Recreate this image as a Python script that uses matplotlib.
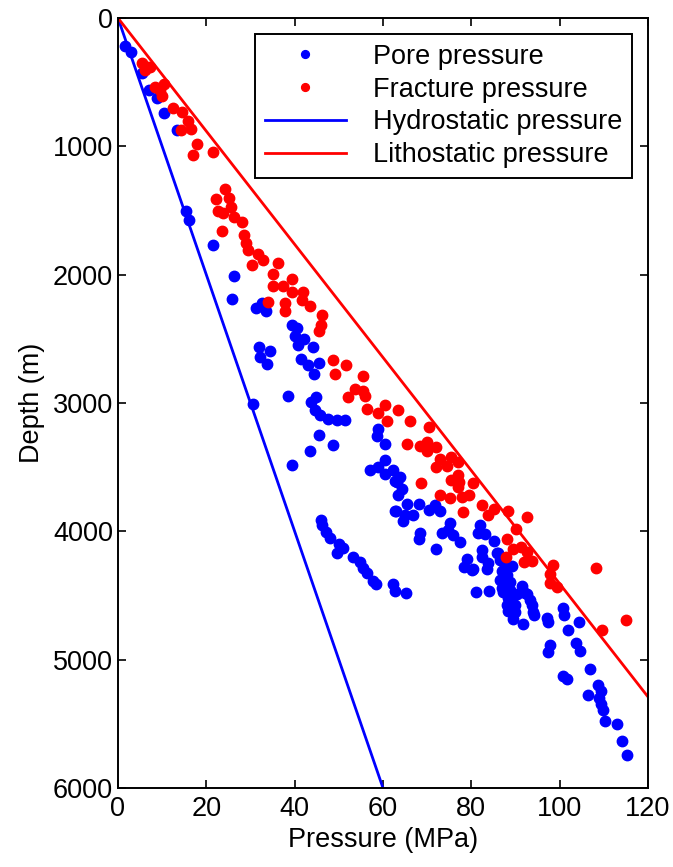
import numpy as np
import matplotlib
matplotlib.use('Agg')
import matplotlib.pyplot as plt

plt.rcParams['font.family'] = ['Liberation Sans', 'DejaVu Sans']
plt.rcParams['font.size'] = 19.5

# pore pressure points (MPa, m)
pore_p = [1.6, 2.9, 5.4, 7.1, 8.8, 10.4, 13.3, 15.5, 16.1, 21.4, 26.3, 25.8, 31.2, 32.5, 33.5,
          39.5, 40.6, 40.1, 42.1, 40.8, 44.1, 41.4, 43.1, 45.6, 44.4, 32.0, 34.4, 32.1, 33.8,
          38.6, 30.5, 44.8, 43.6, 44.6, 45.7, 47.6, 49.5, 51.4, 45.6, 48.6, 43.5, 39.5,
          58.9, 58.6, 60.4, 60.4, 58.9, 57.1, 62.3, 60.4, 62.7, 63.5, 62.7,
          45.9, 46.1, 47.2, 48.0, 50.1, 51.0, 49.5, 53.1, 54.8, 55.4, 56.3, 57.7, 58.4,
          62.3, 62.7, 65.2,
          63.8, 63.1, 64.2, 65.4, 68.2, 62.9, 65.0, 66.9, 64.6, 70.5, 71.8, 72.9, 75.2,
          73.3, 74.8, 75.9, 77.4, 68.4, 68.2, 72.0, 82.0, 81.6, 83.1, 85.1, 82.3, 82.3,
          85.7, 79.0, 78.3, 80.3, 83.8, 83.6, 86.5, 87.6, 89.1, 86.9, 88.0, 86.5, 88.7,
          91.4, 86.9, 88.7, 90.3, 92.5, 93.3, 88.4, 89.5, 81.0, 84.1,
          86.1, 80.1, 87.2, 88.0, 89.9, 88.4, 89.9, 89.5, 92.1, 93.7, 94.0, 91.8, 97.2,
          97.4, 100.7, 101.0, 101.9, 97.8, 97.4,
          94.2, 104.4, 103.8, 104.7, 106.9, 100.8, 101.7, 108.7, 109.4, 106.3, 109.0,
          109.3, 109.7, 110.3, 112.9, 114.1, 115.3]
pore_d = [218, 262, 430, 560, 624, 741, 875, 1500, 1575, 1766, 2010, 2186, 2256, 2222, 2282,
          2393, 2419, 2476, 2502, 2549, 2566, 2657, 2704, 2688, 2774, 2566, 2593, 2644, 2696,
          2942, 3007, 2955, 2989, 3051, 3093, 3124, 3131, 3129, 3253, 3326, 3377, 3486,
          3201, 3258, 3318, 3447, 3499, 3525, 3525, 3551, 3611, 3719, 3843,
          3914, 3952, 4004, 4051, 4095, 4128, 4167, 4198, 4237, 4284, 4328, 4388, 4413,
          4413, 4465, 4480,
          3577, 3616, 3668, 3784, 3784, 3844, 3875, 3875, 3921, 3836, 3792, 3844, 3932,
          4009, 3991, 4030, 4082, 4009, 4056, 4134, 3952, 4009, 4017, 4077, 4147, 4198,
          4165, 4216, 4276, 4294, 4250, 4294, 4224, 4263, 4268, 4310, 4341, 4380, 4393,
          4423, 4444, 4458, 4491, 4491, 4535, 4522, 4569, 4470, 4465,
          4172, 4302, 4470, 4575, 4575, 4621, 4625, 4683, 4483, 4575, 4625, 4724, 4678,
          4709, 4594, 4652, 4769, 4885, 4937,
          4652, 4706, 4872, 4931, 5071, 5131, 5149, 5200, 5242, 5278, 5299,
          5346, 5390, 5475, 5501, 5631, 5740]

# fracture pressure points
frac_p = [5.4, 6.5, 7.2, 6.1, 8.3, 10.4, 9.5, 9.9, 12.5, 14.6, 15.9, 14.2, 16.5, 18.0, 16.9,
          21.4, 24.2, 22.2, 25.2, 25.7, 22.7, 23.8, 26.3, 28.1, 23.5, 28.6, 29.0, 29.5, 31.8,
          32.9, 30.3, 36.3, 35.2, 39.3, 35.2, 37.3, 39.5, 41.8, 34.0, 37.8, 41.6, 43.5, 37.8,
          46.3, 45.9, 45.6, 48.6, 51.6, 49.1, 55.5, 53.7, 55.4, 52.1, 55.9, 56.3, 60.4, 58.9,
          61.0, 63.5,
          66.0, 70.5, 65.4, 68.4, 69.9, 70.0, 72.1, 72.9, 75.5, 77.0, 72.0, 74.6, 77.0, 75.3,
          77.3, 80.3, 77.0, 68.6, 72.9, 75.2, 77.8, 79.5, 78.2, 82.3, 85.1, 83.8, 88.4, 92.7,
          90.1, 88.0, 89.5, 91.2, 92.7, 87.8, 91.9, 93.7,
          98.4, 97.8, 97.8, 99.3, 108.2, 109.5, 115.0]
frac_d = [352, 378, 380, 404, 534, 515, 560, 611, 702, 733, 800, 875, 865, 981, 1070,
          1046, 1329, 1414, 1406, 1471, 1507, 1518, 1549, 1588, 1660, 1691, 1751, 1808, 1836,
          1886, 1927, 1906, 1997, 2036, 2088, 2088, 2134, 2134, 2212, 2217, 2199, 2243, 2282,
          2313, 2393, 2437, 2663, 2704, 2774, 2792, 2890, 2903, 2955, 2947, 3046, 3015, 3077,
          3137, 3051,
          3137, 3188, 3318, 3331, 3305, 3370, 3344, 3434, 3421, 3460, 3499, 3491, 3564, 3603,
          3616, 3621, 3655, 3621, 3719, 3740, 3732, 3719, 3849, 3797, 3828, 3870, 3844, 3888,
          3984, 4056, 4134, 4121, 4160, 4198, 4237, 4232,
          4263, 4335, 4406, 4432, 4289, 4768, 4691]

# gradients in MPa per m
hydro_grad = 0.0100
litho_grad = 120 / 5290
depth_line = np.array([0, 6000])

fig = plt.figure(figsize=(6.73, 8.67), dpi=100)
ax = fig.add_axes([0.1753, 0.0911, 0.7876, 0.8881])

ax.plot(pore_p, pore_d, 'o', color='blue', markersize=7.5, label='Pore pressure')
ax.plot(frac_p, frac_d, 'o', color='red', markersize=7.5, label='Fracture pressure')
ax.plot(depth_line * hydro_grad, depth_line, color='blue', lw=2, label='Hydrostatic pressure')
ax.plot(depth_line * litho_grad, depth_line, color='red', lw=2, label='Lithostatic pressure')

ax.set_xlim(0, 120)
ax.set_ylim(6000, 0)
ax.set_xticks(np.arange(0, 121, 20))
ax.set_yticks(np.arange(0, 6001, 1000))
ax.tick_params(direction='in', top=True, right=True, length=6, width=1.2)
ax.tick_params(axis='x', pad=6)
for s in ax.spines.values():
    s.set_linewidth(1.4)

ax.set_xlabel('Pressure (MPa)', labelpad=3)
ax.set_ylabel('Depth (m)', labelpad=6)

leg = ax.legend(loc='upper right', fancybox=False, edgecolor='black', framealpha=1,
                numpoints=1, handlelength=3.0, labelspacing=0.25, borderaxespad=0.6,
                handletextpad=1.0, borderpad=0.35, markerscale=0.75)
leg.get_frame().set_linewidth(1.4)

fig.savefig('out.png', dpi=100)
